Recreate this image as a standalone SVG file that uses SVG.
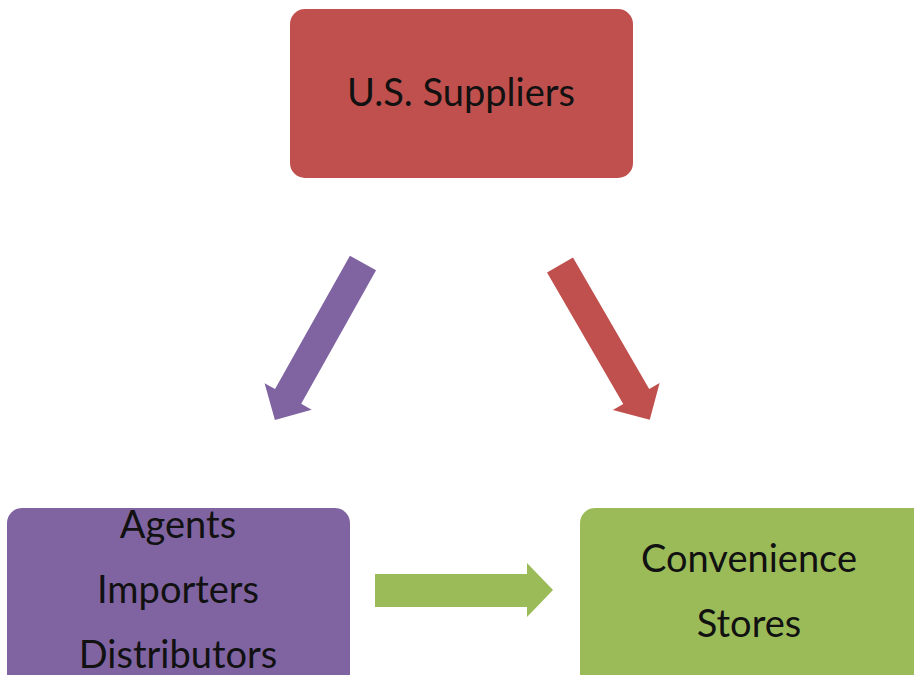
<svg xmlns="http://www.w3.org/2000/svg" width="914" height="675" viewBox="0 0 914 675">
<style>
.lbl{font-family:Lato,"Liberation Sans",sans-serif;font-size:38px;fill:#111;text-anchor:middle}
</style>
<rect width="914" height="675" fill="#fff"/>
<g id="suppliers">
<rect x="290" y="9" width="343" height="169" rx="15" fill="#c0504d"/>
<text class="lbl" x="461" y="106">U.S. Suppliers</text>
</g>
<g id="agents">
<rect x="7" y="508" width="343" height="185" rx="15" fill="#8064a2"/>
<text class="lbl" x="178" y="538">Agents</text>
<text class="lbl" x="178" y="603">Importers</text>
<text class="lbl" x="178" y="668">Distributors</text>
</g>
<g id="stores">
<rect x="580" y="508" width="350" height="185" rx="15" fill="#9bbb59"/>
<text class="lbl" x="749" y="572">Convenience</text>
<text class="lbl" x="749" y="637">Stores</text>
</g>
<g id="connectors">
<path transform="translate(363,263) rotate(119.3)" d="M0,-15 L153,-15 L153,-27 L180,0 L153,27 L153,15 L0,15 Z" fill="#8064a2"/>
<path transform="translate(560,265) rotate(59.9)" d="M0,-15 L152,-15 L152,-27 L179,0 L152,27 L152,15 L0,15 Z" fill="#c0504d"/>
<path d="M375,574 L527,574 L527,563 L553,590 L527,617 L527,607 L375,607 Z" fill="#9bbb59"/>
</g>
</svg>
